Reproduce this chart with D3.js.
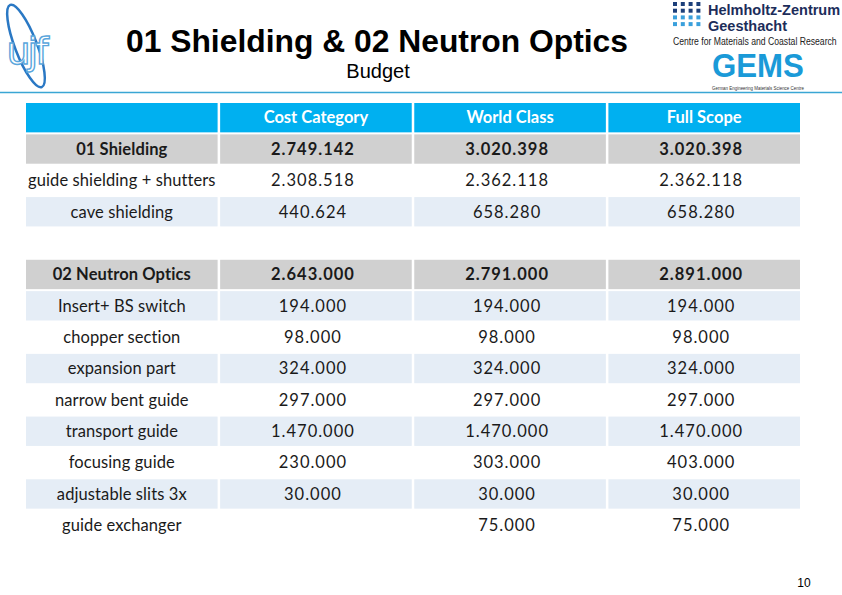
<!DOCTYPE html>
<html>
<head>
<meta charset="utf-8">
<script src="https://cdn.jsdelivr.net/npm/d3@7/dist/d3.min.js"></script>
<style>
  html, body { margin: 0; padding: 0; background: #fff; }
  svg { display: block; }
</style>
</head>
<body>
<svg id="chart" width="842" height="595"></svg>
<script>
// ---- data ----
const title = "01 Shielding & 02 Neutron Optics";
const subtitle = "Budget";
const columns = ["", "Cost Category", "World Class", "Full Scope"];
const rowLabels = ["01 Shielding", "guide shielding + shutters", "cave shielding", "",
  "02 Neutron Optics", "Insert+ BS switch", "chopper section", "expansion part",
  "narrow bent guide", "transport guide", "focusing guide", "adjustable slits 3x", "guide exchanger"];
const rowTypes = ["total", "item", "item", "blank",
  "total", "item", "item", "item", "item", "item", "item", "item", "item"];
const costCategory = [2749142, 2308518, 440624, null, 2643000, 194000, 98000, 324000, 297000, 1470000, 230000, 30000, null];
const worldClass   = [3020398, 2362118, 658280, null, 2791000, 194000, 98000, 324000, 297000, 1470000, 303000, 30000, 75000];
const fullScope    = [3020398, 2362118, 658280, null, 2891000, 194000, 98000, 324000, 297000, 1470000, 403000, 30000, 75000];
const pageNumber = "10";

// ---- setup ----
const svg = d3.select("#chart");
const W = 842, H = 595;
const fmt = d3.formatLocale({decimal: ",", thousands: ".", grouping: [3], currency: ["", ""]}).format(",d");

// fit a text to a given width by horizontal scaling (x = left edge)
function fitText(sel, x, y, width) {
  const len = sel.node().getComputedTextLength();
  sel.attr("x", 0).attr("y", 0)
    .attr("transform", `translate(${x},${y}) scale(${width / len},1)`);
  return sel;
}

// header line
svg.append("line").attr("x1", 0).attr("x2", W).attr("y1", 92.5).attr("y2", 92.5)
  .attr("stroke", "#3aa6d4").attr("stroke-width", 1.5);

// title
svg.append("text").attr("x", 377).attr("y", 52).attr("text-anchor", "middle")
  .attr("font-family", "Liberation Sans, Arial, sans-serif").attr("font-weight", "bold")
  .attr("font-size", 31).attr("fill", "#000")
  .attr("textLength", 502).attr("lengthAdjust", "spacingAndGlyphs").text(title);
svg.append("text").attr("x", 378).attr("y", 78).attr("text-anchor", "middle")
  .attr("font-family", "Liberation Sans, Arial, sans-serif")
  .attr("font-size", 20).attr("fill", "#000").text(subtitle);

// left logo (ujf)
const ll = svg.append("g");
ll.append("ellipse").attr("cx", 26).attr("cy", 46).attr("rx", 11).attr("ry", 44)
  .attr("transform", "rotate(-21,26,46)")
  .attr("fill", "none").attr("stroke", "#2a78c4").attr("stroke-width", 2.5);
ll.append("text").attr("x", 26).attr("y", 64).attr("text-anchor", "middle")
  .attr("font-family", "DejaVu Sans, sans-serif").attr("font-size", 38)
  .attr("fill", "#fff").attr("stroke", "#5aa6dc").attr("stroke-width", 1.4)
  .attr("letter-spacing", -3).text("ujf");

// right logo (HZG / GEMS)
const rl = svg.append("g");
const dotCols = [0, 1, 2, 3], dotRows = [0, 1, 2, 3];
dotRows.forEach(r => dotCols.forEach(c => {
  rl.append("rect").attr("x", 673 + c * 7.8).attr("y", 2 + r * 6.7)
    .attr("width", 4).attr("height", 4)
    .attr("fill", r < 2 ? "#1c3f7a" : "#3aa0dc");
}));
rl.append("text").attr("x", 708).attr("y", 15).attr("font-family", "Liberation Sans, Arial, sans-serif")
  .attr("font-weight", "bold").attr("font-size", 14.5).attr("fill", "#1c2d5a").text("Helmholtz-Zentrum");
rl.append("text").attr("x", 708).attr("y", 31).attr("font-family", "Liberation Sans, Arial, sans-serif")
  .attr("font-weight", "bold").attr("font-size", 14.5).attr("fill", "#1c2d5a").text("Geesthacht");
fitText(rl.append("text").attr("font-family", "Liberation Sans, Arial, sans-serif")
  .attr("font-size", 11.5).attr("fill", "#222").text("Centre for Materials and Coastal Research"),
  673, 45, 164);
fitText(rl.append("text").attr("font-family", "Liberation Sans, Arial, sans-serif").attr("font-weight", "bold")
  .attr("font-size", 34).attr("fill", "#1a9ad8").text("GEMS"), 712, 77, 92);
fitText(rl.append("text").attr("font-family", "Liberation Sans, Arial, sans-serif")
  .attr("font-size", 4.5).attr("fill", "#333").text("German Engineering Materials Science Centre"),
  712, 90, 92);

// ---- table ----
const colScale = d3.scaleBand().domain(d3.range(columns.length)).range([26, 800]).paddingInner(0.013);
const rowIdx = d3.range(rowLabels.length + 1); // 0 = header
const rowScale = d3.scaleBand().domain(rowIdx).range([103, 540]).paddingInner(0.064);

const series = [costCategory, worldClass, fullScope];
const bodyFont = "Lato, 'Open Sans', sans-serif";
const FS = 16.5;

// header row
columns.forEach((c, ci) => {
  svg.append("rect").attr("x", colScale(ci)).attr("y", rowScale(0))
    .attr("width", colScale.bandwidth()).attr("height", rowScale.bandwidth()).attr("fill", "#00b0f0");
  if (c) svg.append("text").attr("x", colScale(ci) + colScale.bandwidth() / 2)
    .attr("y", rowScale(0) + rowScale.bandwidth() / 2).attr("dy", "0.35em")
    .attr("text-anchor", "middle").attr("font-family", bodyFont).attr("font-weight", "bold")
    .attr("font-size", FS).attr("fill", "#fff").text(c);
});

// body rows (shading alternates over non-total rows, starting white)
let stripe = 0;
rowLabels.forEach((lab, i) => {
  const ri = i + 1;
  const type = rowTypes[i];
  let fill;
  if (type === "total") fill = "#d0d0d0";
  else { fill = stripe % 2 === 1 ? "#e5edf6" : "#ffffff"; stripe++; }
  const cells = [lab].concat(series.map(s => s[i] == null ? "" : fmt(s[i])));
  cells.forEach((txt, ci) => {
    svg.append("rect").attr("x", colScale(ci)).attr("y", rowScale(ri))
      .attr("width", colScale.bandwidth()).attr("height", rowScale.bandwidth()).attr("fill", fill);
    if (txt) svg.append("text").attr("x", colScale(ci) + colScale.bandwidth() / 2 - (ci > 0 ? 3 : 0))
      .attr("y", rowScale(ri) + rowScale.bandwidth() / 2).attr("dy", "0.35em")
      .attr("text-anchor", "middle").attr("font-family", bodyFont)
      .attr("font-weight", type === "total" ? "bold" : "normal")
      .attr("letter-spacing", ci > 0 ? 1 : 0.1)
      .attr("font-size", FS).attr("fill", "#1a1a1a").text(txt);
  });
});

// page number
svg.append("text").attr("x", 804).attr("y", 587).attr("text-anchor", "middle")
  .attr("font-family", "Liberation Sans, Arial, sans-serif").attr("font-size", 12)
  .attr("fill", "#000").text(pageNumber);
</script>
</body>
</html>
